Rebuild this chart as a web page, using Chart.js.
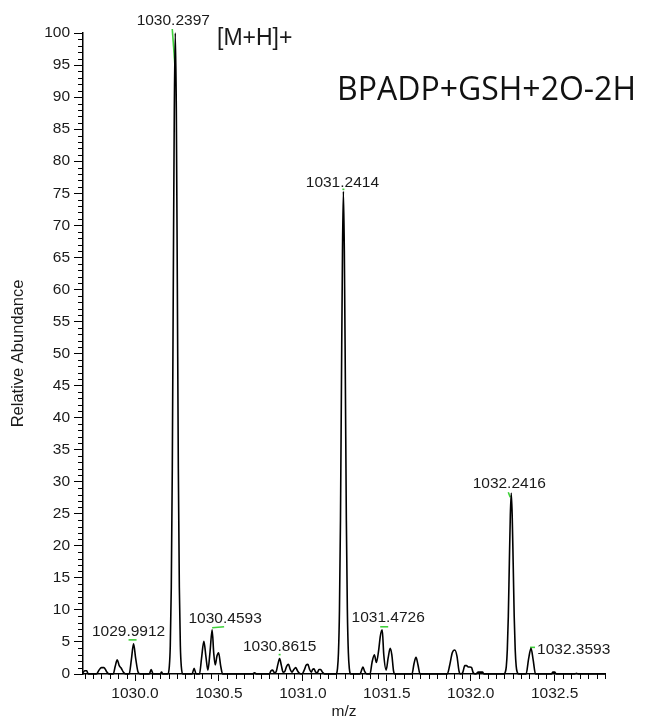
<!DOCTYPE html>
<html>
<head>
<meta charset="utf-8">
<script src="https://cdn.jsdelivr.net/npm/chart.js@4.4.1/dist/chart.umd.min.js"></script>
<style>
  html, body { margin: 0; padding: 0; background: #fff; }
  canvas { display: block; }
</style>
</head>
<body>
<canvas id="spectrum" width="648" height="721"></canvas>
<script>
// profile spectrum, m/z and relative abundance
const mzValues = [
  1029.690, 1029.700, 1029.712, 1029.722, 1029.770, 1029.785, 1029.800, 1029.815, 1029.830, 1029.845,
  1029.870, 1029.882, 1029.894, 1029.906, 1029.918, 1029.930, 1029.945, 1029.965, 1029.978, 1029.9912,
  1030.004, 1030.018, 1030.030, 1030.085, 1030.096, 1030.108, 1030.150, 1030.158, 1030.166,
  1030.196, 1030.204, 1030.210, 1030.216, 1030.222, 1030.228, 1030.234, 1030.2397, 1030.246, 1030.252,
  1030.258, 1030.264, 1030.270, 1030.276, 1030.284,
  1030.340, 1030.352, 1030.364, 1030.384, 1030.396, 1030.410, 1030.422, 1030.434, 1030.447, 1030.4593,
  1030.469, 1030.478, 1030.488, 1030.498, 1030.510, 1030.522, 1030.700, 1030.712, 1030.724,
  1030.800, 1030.810, 1030.820, 1030.830, 1030.840, 1030.851, 1030.8615, 1030.872, 1030.882, 1030.892,
  1030.903, 1030.914, 1030.925, 1030.935, 1030.946, 1030.957, 1030.968, 1030.980, 1030.995,
  1031.008, 1031.020, 1031.030, 1031.040, 1031.050, 1031.058, 1031.066, 1031.076, 1031.086, 1031.096,
  1031.106, 1031.116, 1031.130,
  1031.198, 1031.206, 1031.212, 1031.218, 1031.224, 1031.230, 1031.236, 1031.2414, 1031.247, 1031.253,
  1031.259, 1031.265, 1031.271, 1031.277, 1031.285,
  1031.340, 1031.350, 1031.358, 1031.368, 1031.380, 1031.400, 1031.412, 1031.426, 1031.438, 1031.450,
  1031.462, 1031.4726, 1031.482, 1031.496, 1031.508, 1031.520, 1031.530, 1031.540, 1031.550,
  1031.650, 1031.662, 1031.674, 1031.686, 1031.698,
  1031.860, 1031.875, 1031.890, 1031.905, 1031.918, 1031.930, 1031.940, 1031.952, 1031.965, 1031.975,
  1031.985, 1031.995, 1032.005, 1032.015, 1032.030, 1032.045, 1032.070, 1032.080,
  1032.198, 1032.206, 1032.212, 1032.218, 1032.224, 1032.230, 1032.236, 1032.2416, 1032.247, 1032.253,
  1032.259, 1032.265, 1032.271, 1032.277, 1032.285,
  1032.330, 1032.345, 1032.3593, 1032.372, 1032.386, 1032.480, 1032.490, 1032.500, 1032.510,
  1032.620, 1032.630, 1032.640, 1032.800
];
const abundance = [
  0.2, 0.5, 0.5, 0, 0, 0.6, 1.0, 1.0, 0.4, 0,
  0, 1.2, 2.2, 1.3, 0.9, 0.3, 0, 0, 2.2, 4.7,
  2.4, 0.3, 0, 0, 0.7, 0, 0, 0.3, 0,
  0, 1.1, 4.4, 13.5, 32, 61, 88, 100, 88, 61,
  32, 13.5, 4.4, 1.1, 0,
  0, 0.9, 0, 0, 2.4, 5.1, 2.8, 0.6, 3.5, 6.9,
  3.2, 1.4, 2.8, 3.3, 1.3, 0, 0, 0.2, 0,
  0, 0.5, 0.6, 0.2, 0.3, 1.5, 2.4, 1.3, 0.3, 0.4,
  1.2, 1.5, 0.7, 0.3, 0.7, 1.0, 0.5, 0.1, 0,
  0.6, 1.4, 1.5, 0.7, 0.3, 0.7, 0.8, 0.3, 0.2, 0.7,
  0.7, 0.3, 0,
  0, 0.8, 3.3, 10, 24, 46, 66, 75.3, 66, 46,
  24, 10, 3.3, 0.8, 0,
  0, 0.6, 1.1, 0.4, 0, 0, 1.8, 3.0, 1.8, 3.4,
  6.0, 6.9, 3.0, 0.6, 2.5, 4.0, 3.0, 0.5, 0,
  0, 1.6, 2.6, 1.4, 0,
  0, 1.4, 3.3, 3.75, 2.8, 0.5, 0, 0.2, 1.3, 1.3,
  1.1, 1.1, 1.0, 0.2, 0, 0.3, 0.3, 0,
  0, 0.3, 1.2, 3.8, 9, 17.2, 24.8, 28.2, 24.8, 17.2,
  9, 3.8, 1.2, 0.3, 0,
  0, 2.4, 4.0, 2.2, 0, 0, 0.3, 0.3, 0,
  0, 0.1, 0, 0
];

// labelled peaks
const peakMz = [1029.9912, 1030.2397, 1030.4593, 1030.8615, 1031.2414, 1031.4726, 1032.2416, 1032.3593];
const peakAb = [4.7, 100, 6.9, 2.4, 75.3, 6.9, 28.2, 4.0];
const peakText = ['1029.9912', '1030.2397', '1030.4593', '1030.8615', '1031.2414', '1031.4726', '1032.2416', '1032.3593'];

// ticks
const xTicks = [1030.0, 1030.5, 1031.0, 1031.5, 1032.0, 1032.5];
const yTicks = [0, 5, 10, 15, 20, 25, 30, 35, 40, 45, 50, 55, 60, 65, 70, 75, 80, 85, 90, 95, 100];
const xMin = 1029.69, xMax = 1032.8;

const points = mzValues.map((m, i) => ({ x: m, y: abundance[i] }));

const labelFont = '15.5px "Liberation Sans", Arial, sans-serif';
const green = '#3fd13a';

// label placement around each peak apex (pixels): dx, dy, align
const labelPlace = [
  [-5, -12, 'center'], [-2, -12, 'center'], [13, -11, 'center'], [0, -12, 'center'],
  [-1, -9, 'center'], [6, -12, 'center'], [-2, -10, 'center'], [6, 1, 'left']
];
// small green centroid marks near the apex: x1, y1, x2, y2
const markPlace = [
  [-5, -4, 3, -4], [-3, -4, 0, 37], [0, -2, 12, -3], [-1, -4, 1, -4],
  [-1, -2, 1, -2], [-2, -3, 6, -3], [-3, -1, -1, 4], [-1, -1, 4, -1]
];

const extras = {
  id: 'extras',
  beforeDatasetsDraw(chart) {
    const c = chart.ctx, xs = chart.scales.x, ys = chart.scales.y;
    c.save();
    c.strokeStyle = green;
    c.lineWidth = 1.6;
    peakMz.forEach((m, i) => {
      const px = xs.getPixelForValue(m), py = ys.getPixelForValue(peakAb[i]);
      const k = markPlace[i];
      c.beginPath();
      c.moveTo(px + k[0], py + k[1]);
      c.lineTo(px + k[2], py + k[3]);
      c.stroke();
    });
    c.restore();
  },
  afterDraw(chart) {
    const c = chart.ctx, xs = chart.scales.x, ys = chart.scales.y;
    c.save();
    // minor ticks
    c.strokeStyle = '#000';
    c.lineWidth = 1;
    for (let v = 1; v < 100; v++) {
      if (v % 5 === 0) continue;
      const py = Math.round(ys.getPixelForValue(v)) + 0.5;
      c.beginPath(); c.moveTo(xs.left - 5, py); c.lineTo(xs.left, py); c.stroke();
    }
    for (let k = Math.ceil(xMin * 20); k <= Math.floor(xMax * 20); k++) {
      if (k % 10 === 0) continue;
      const px = Math.round(xs.getPixelForValue(k / 20)) + 0.5;
      c.beginPath(); c.moveTo(px, ys.bottom); c.lineTo(px, ys.bottom + 5); c.stroke();
    }
    // peak labels
    c.font = labelFont;
    c.fillStyle = '#1a1a1a';
    c.textBaseline = 'middle';
    peakMz.forEach((m, i) => {
      const px = xs.getPixelForValue(m), py = ys.getPixelForValue(peakAb[i]);
      const p = labelPlace[i];
      c.textAlign = p[2];
      c.fillText(peakText[i], px + p[0], py + p[1]);
    });
    // annotations
    c.textAlign = 'left';
    c.font = '23px "Liberation Sans", Arial, sans-serif';
    c.fillText('[M+H]+', 217, 39);
    c.font = '32px "Open Sans", sans-serif';
    c.fillStyle = '#111';
    c.fillText('BPADP+GSH+2O-2H', 337, 91);
    c.restore();
  }
};

const tickFont = { family: '"Liberation Sans", Arial, sans-serif', size: 15.5 };

new Chart(document.getElementById('spectrum'), {
  type: 'line',
  data: {
    datasets: [{
      data: points,
      borderColor: '#000',
      borderWidth: 1.6,
      pointRadius: 0,
      fill: false,
      cubicInterpolationMode: 'monotone',
      clip: 6
    }]
  },
  options: {
    responsive: false,
    animation: false,
    layout: { padding: { top: 33, right: 43, left: 0, bottom: 0 } },
    plugins: { legend: { display: false }, tooltip: { enabled: false } },
    scales: {
      x: {
        type: 'linear',
        min: xMin,
        max: xMax,
        afterFit(s) { s.height = 47; },
        afterBuildTicks(s) { s.ticks = xTicks.map(v => ({ value: v })); },
        ticks: {
          font: tickFont, color: '#1a1a1a', padding: 3, maxRotation: 0, autoSkip: false,
          callback: v => v.toFixed(1)
        },
        grid: { drawOnChartArea: false, tickLength: 7, color: '#000' },
        border: { color: '#000', width: 1.5 },
        title: { display: true, text: 'm/z', font: tickFont, color: '#1a1a1a', padding: 0 }
      },
      y: {
        min: 0,
        max: 100,
        afterFit(s) { s.width = 83; },
        afterBuildTicks(s) { s.ticks = yTicks.map(v => ({ value: v })); },
        ticks: { font: tickFont, color: '#1a1a1a', padding: 4, autoSkip: false },
        grid: { drawOnChartArea: false, tickLength: 9, color: '#000' },
        border: { color: '#000', width: 1.5 },
        title: {
          display: true, text: 'Relative Abundance', color: '#1a1a1a',
          font: { family: '"Liberation Sans", Arial, sans-serif', size: 16.5 },
          padding: { top: 9, bottom: 0 }
        }
      }
    }
  },
  plugins: [extras]
});
</script>
</body>
</html>
